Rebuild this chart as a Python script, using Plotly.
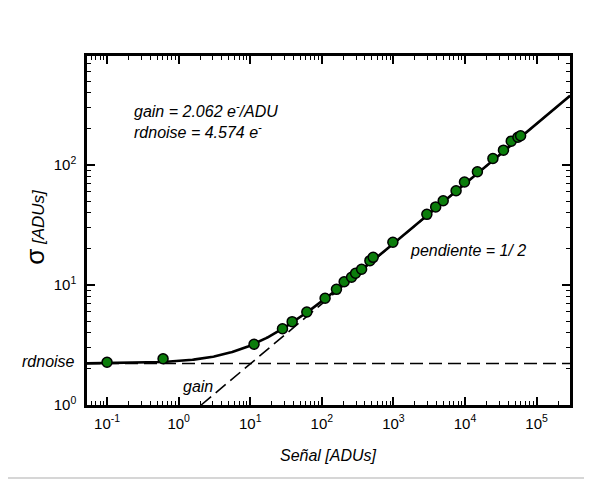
import numpy as np
import plotly.graph_objects as go

# Data
signal = [0.1, 0.606, 11.3, 28.2, 38.5, 61.7, 111, 160, 205, 260, 296, 359, 469, 521,
          982, 2930, 3890, 4955, 7500, 9820, 14880, 24500, 34400, 44200, 54700, 59700]
sigma = [2.27, 2.43, 3.21, 4.32, 4.95, 5.96, 7.75, 9.2, 10.65, 11.59, 12.52, 13.52, 15.94, 17.0,
         22.7, 38.8, 44.7, 50.3, 61.0, 72.1, 87.8, 113.3, 132.8, 157.9, 170.2, 175.0]

gain = 2.062
rdnoise = 4.574

x_tickvals = [0.1, 1, 10, 100, 1000, 10000, 100000]
x_ticktext = ["10<sup>-1</sup>", "10<sup>0</sup>", "10<sup>1</sup>", "10<sup>2</sup>",
              "10<sup>3</sup>", "10<sup>4</sup>", "10<sup>5</sup>"]
y_tickvals = [1, 10, 100]
y_ticktext = ["10<sup>0</sup>", "10<sup>1</sup>", "10<sup>2</sup>"]

xr = [-1.28, 5.466]
yr = [0, 2.908]

# model curves
xs = np.logspace(xr[0], xr[1], 400)
fit = np.sqrt(xs / gain + (rdnoise / gain) ** 2)
xg = np.logspace(np.log10(gain), xr[1], 100)
gline = np.sqrt(xg / gain)

FONT = "Liberation Sans, Arial, sans-serif"

fig = go.Figure()
fig.add_trace(go.Scatter(x=[10 ** xr[0], 10 ** xr[1]], y=[rdnoise / gain] * 2, mode="lines",
                         line=dict(color="black", width=1.6, dash="13px,6px"), hoverinfo="skip"))
fig.add_trace(go.Scatter(x=xg, y=gline, mode="lines",
                         line=dict(color="black", width=1.6, dash="13px,6px"), hoverinfo="skip"))
fig.add_trace(go.Scatter(x=xs, y=fit, mode="lines", line=dict(color="black", width=2.6)))
fig.add_trace(go.Scatter(x=signal, y=sigma, mode="markers",
                         marker=dict(size=10, color="#0b7d0b", line=dict(color="black", width=1.5))))

minor_x = [k * 10.0 ** d for d in range(-2, 6) for k in range(2, 10)]
minor_y = [k * 10.0 ** d for d in range(0, 3) for k in range(2, 10)]

axis_common = dict(showline=True, linecolor="black", linewidth=2.5, mirror="ticks",
                   ticks="inside", ticklen=8, tickwidth=1.6, tickcolor="black",
                   showgrid=False, zeroline=False,
                   tickfont=dict(family=FONT, size=15, color="black"))

fig.update_xaxes(type="log", range=xr, tickmode="array", tickvals=x_tickvals, ticktext=x_ticktext,
                 minor=dict(tickmode="array", tickvals=minor_x, ticks="inside", ticklen=4,
                            tickwidth=1.3, tickcolor="black", showgrid=False),
                 ticklabelstandoff=3, **axis_common)
fig.update_yaxes(type="log", range=yr, tickmode="array", tickvals=y_tickvals, ticktext=y_ticktext,
                 minor=dict(tickmode="array", tickvals=minor_y, ticks="inside", ticklen=4,
                            tickwidth=1.3, tickcolor="black", showgrid=False),
                 ticklabelstandoff=5, **axis_common)

ann_font = dict(family=FONT, size=16, color="black")
annotations = [
    dict(text="<i>gain = 2.062 e<sup>-</sup>/ADU</i>", x=0.093, y=0.845, xanchor="left"),
    dict(text="<i>rdnoise = 4.574 e<sup>-</sup></i>", x=0.093, y=0.785, xanchor="left"),
    dict(text="<i>pendiente = 1/ 2</i>", x=0.665, y=0.444, xanchor="left"),
    dict(text="<i>gain</i>", x=0.229, y=0.052, xanchor="center"),
    dict(text="<i>rdnoise</i>", x=-0.02, y=0.124, xanchor="right"),
    dict(text="<i>Señal [ADUs]</i>", x=0.5, y=-0.146, xanchor="center",
         font=dict(family=FONT, size=16, color="black")),
    dict(text="<span style='font-size:26px'>σ</span> <i>[ADUs]</i>", x=-0.108, y=0.51,
         xanchor="center", textangle=-90, font=dict(family=FONT, size=17, color="black")),
]
for a in annotations:
    a.setdefault("font", ann_font)
    a.update(xref="paper", yref="paper", yanchor="middle", showarrow=False)

fig.update_layout(
    width=592, height=481,
    margin=dict(l=79, r=30, t=48, b=84),
    plot_bgcolor="white", paper_bgcolor="white",
    showlegend=False,
    annotations=annotations,
    shapes=[dict(type="line", xref="paper", yref="paper", x0=-0.17, x1=1.041, y0=-0.209, y1=-0.209,
                 line=dict(color="#c8c8c8", width=1.5))],
)

fig.write_html("out.html")
